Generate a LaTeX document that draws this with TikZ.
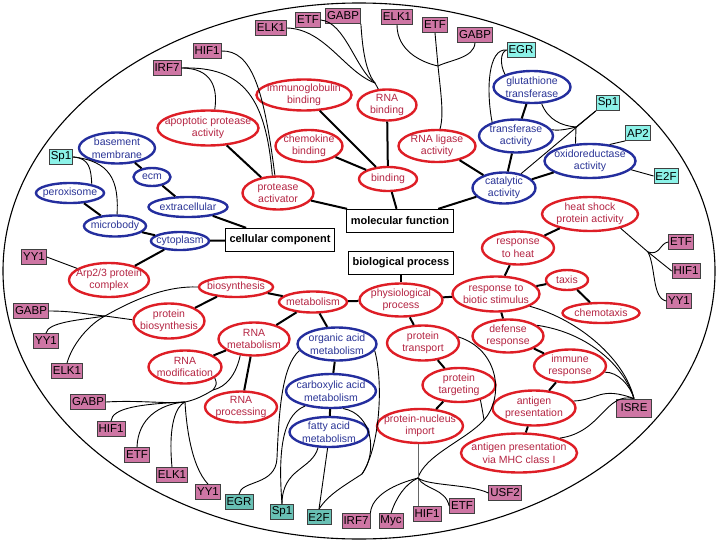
\documentclass[tikz,border=0pt]{standalone}
\usepackage{fontspec}
\setmainfont{Liberation Sans}
\usetikzlibrary{shapes.geometric}

\definecolor{goRed}{RGB}{222,30,38}
\definecolor{goRedText}{RGB}{180,36,66}
\definecolor{goBlue}{RGB}{36,46,158}
\definecolor{goBlueText}{RGB}{42,52,150}
\definecolor{tfPink}{RGB}{206,118,164}
\definecolor{tfCyan}{RGB}{140,242,232}
\definecolor{tfTeal}{RGB}{104,192,180}

\begin{document}
\begin{tikzpicture}[
  x=1pt, y=-1pt,
  sz/.style 2 args={minimum width=#1pt, minimum height=#2pt},
  redterm/.style={ellipse, draw=goRed, line width=2.4pt, text=goRedText,
    align=center, inner sep=-10pt, font=\fontsize{10.5}{12.5}\selectfont},
  blueterm/.style={ellipse, draw=goBlue, line width=2.4pt, text=goBlueText,
    align=center, inner sep=-10pt, font=\fontsize{10.5}{12.5}\selectfont},
  root/.style={rectangle, draw, line width=1.3pt, inner xsep=4pt,
    minimum height=23pt, font=\fontsize{11}{13}\selectfont\bfseries},
  tf/.style={rectangle, draw=black!75, line width=0.8pt, fill=tfPink,
    inner xsep=1.5pt, inner ysep=1pt, minimum height=15pt,
    font=\fontsize{11.5}{13}\selectfont},
  tfc/.style={tf, fill=tfCyan},
  tft/.style={tf, fill=tfTeal},
  isa/.style={line width=2pt},
  bind/.style={line width=0.9pt}
  ]

\useasboundingbox (0,0) rectangle (719,540);
\draw[line width=1.1pt] (359,271) ellipse [x radius=356pt, y radius=268pt];

% the three roots
\node[root] (molfun) at (400,221) {molecular function};
\node[root] (cellcomp) at (280,240) {cellular component};
\node[root] (bioproc) at (401,263) {biological process};

% cellular component
\node[blueterm, sz={76}{31}] (basemem) at (117,148) {basement\\membrane};
\node[blueterm, sz={37}{18}] (ecm) at (152,177) {ecm};
\node[blueterm, sz={68}{20}] (perox) at (70,193) {peroxisome};
\node[blueterm, sz={79}{20}] (extracell) at (188,207) {extracellular};
\node[blueterm, sz={62}{21}] (microbody) at (115,226) {microbody};
\node[blueterm, sz={58}{18}] (cytoplasm) at (180,241) {cytoplasm};
\node[redterm, sz={80}{34}] (arp) at (109,280) {Arp2/3 protein\\complex};

% molecular function
\node[redterm, sz={95}{31}] (igbind) at (304,95) {immunoglobulin\\binding};
\node[redterm, sz={59}{31}] (rnabind) at (387,105) {RNA\\binding};
\node[redterm, sz={101}{35}] (apoprot) at (208,128) {apoptotic protease\\activity};
\node[redterm, sz={67}{32}] (chemobind) at (309,146) {chemokine\\binding};
\node[redterm, sz={71}{33}] (protact) at (278,193) {protease\\activator};
\node[redterm, sz={58}{24}] (binding) at (388,179) {binding};
\node[redterm, sz={77}{32}] (rnaligase) at (437,146) {RNA ligase\\activity};
\node[blueterm, sz={77}{32}] (glut) at (532,87) {glutathione\\transferase};
\node[blueterm, sz={74}{33}] (transf) at (516,136) {transferase\\activity};
\node[blueterm, sz={91}{34}] (oxido) at (590,161) {oxidoreductase\\activity};
\node[blueterm, sz={63}{31}] (catal) at (504,188) {catalytic\\activity};
\node[redterm, sz={96}{34}] (heatshock) at (590,214) {heat shock\\protein activity};

% biological process
\node[redterm, sz={72}{33}] (respheat) at (518,248) {response\\to heat};
\node[redterm, sz={74}{20}] (biosyn) at (236,287) {biosynthesis};
\node[redterm, sz={68}{21}] (metab) at (313,302) {metabolism};
\node[redterm, sz={83}{33}] (physproc) at (401,300) {physiological\\process};
\node[redterm, sz={87}{35}] (respbiotic) at (496,294) {response to\\biotic stimulus};
\node[redterm, sz={42}{20}] (taxis) at (567,280) {taxis};
\node[redterm, sz={77}{20}] (chemotaxis) at (601,313) {chemotaxis};
\node[redterm, sz={71}{35}] (protbiosyn) at (169,321) {protein\\biosynthesis};
\node[redterm, sz={71}{33}] (rnametab) at (254,339) {RNA\\metabolism};
\node[redterm, sz={73}{33}] (rnamod) at (185,367) {RNA\\modification};
\node[redterm, sz={72}{31}] (rnaproc) at (241,407) {RNA\\processing};
\node[blueterm, sz={79}{33}] (orgacid) at (337,344) {organic acid\\metabolism};
\node[blueterm, sz={90}{34}] (carbox) at (331,391) {carboxylic acid\\metabolism};
\node[blueterm, sz={79}{30}] (fatty) at (329,432) {fatty acid\\metabolism};
\node[redterm, sz={72}{35}] (prottrans) at (423,343) {protein\\transport};
\node[redterm, sz={71}{33}] (defresp) at (508,336) {defense\\response};
\node[redterm, sz={72}{33}] (immresp) at (570,366) {immune\\response};
\node[redterm, sz={73}{34}] (prottarg) at (459,385) {protein\\targeting};
\node[redterm, sz={83}{35}] (antpres) at (534,408) {antigen\\presentation};
\node[redterm, sz={86}{34}] (pnimport) at (420,426) {protein-nucleus\\import};
\node[redterm, sz={116}{39}] (mhc) at (519,453) {antigen presentation\\via MHC class I};

% transcription factors
\node[tf] (elkA) at (271,28) {ELK1};
\node[tf] (etfA) at (308,20) {ETF};
\node[tf] (gabpA) at (343,16) {GABP};
\node[tf] (hifA) at (207,51) {HIF1};
\node[tf] (irfA) at (167,68) {IRF7};
\node[tf] (elkB) at (397,17) {ELK1};
\node[tf] (etfB) at (435,25) {ETF};
\node[tf] (gabpB) at (475,35) {GABP};
\node[tfc] (egrB) at (521,50) {EGR};
\node[tfc] (spB) at (608,103) {Sp1};
\node[tfc] (aptwo) at (638,133) {AP2};
\node[tfc] (etwofB) at (666,176) {E2F};
\node[tfc] (spA) at (61,157) {Sp1};
\node[tf] (yyD) at (34,257) {YY1};
\node[tf] (etfC) at (681,242) {ETF};
\node[tf] (hifC) at (686,271) {HIF1};
\node[tf] (yyC) at (679,301) {YY1};
\node[tf] (gabpE) at (31,311) {GABP};
\node[tf] (yyE) at (46,341) {YY1};
\node[tf] (elkE) at (67,371) {ELK1};
\node[tf] (gabpF) at (88,402) {GABP};
\node[tf] (hifF) at (111,429) {HIF1};
\node[tf] (etfF) at (137,455) {ETF};
\node[tf] (elkF) at (172,475) {ELK1};
\node[tf] (yyF) at (208,492) {YY1};
\node[tft] (egrH) at (239,502) {EGR};
\node[tft] (spH) at (282,512) {Sp1};
\node[tft] (etwofH) at (319,517) {E2F};
\node[tf] (irfG) at (356,521) {IRF7};
\node[tf] (mycG) at (391,521) {Myc};
\node[tf] (hifG) at (427,514) {HIF1};
\node[tf] (etfG) at (462,506) {ETF};
\node[tf] (usfG) at (505,493) {USF2};
\node[tf, minimum width=35pt, minimum height=18pt] (isre) at (634,408) {ISRE};

% is-a links
\draw[isa] (basemem) -- (ecm);
\draw[isa] (ecm) -- (extracell);
\draw[isa] (extracell) -- (cellcomp);
\draw[isa] (perox) -- (microbody);
\draw[isa] (microbody) -- (cytoplasm);
\draw[isa] (cytoplasm) -- (cellcomp);
\draw[isa] (cytoplasm) -- (arp);

\draw[isa] (apoprot) -- (protact);
\draw[isa] (protact) -- (molfun);
\draw[isa] (igbind) -- (binding);
\draw[isa] (chemobind) -- (binding);
\draw[isa] (rnabind) -- (binding);
\draw[isa] (binding) -- (molfun);
\draw[isa] (rnaligase) -- (catal);
\draw[isa] (glut) -- (transf);
\draw[isa] (transf) -- (catal);
\draw[isa] (oxido) -- (catal);
\draw[isa] (catal) -- (molfun);

\draw[isa] (bioproc) -- (physproc);
\draw[isa] (physproc) -- (metab);
\draw[isa] (metab) -- (biosyn);
\draw[isa] (biosyn) -- (protbiosyn);
\draw[isa] (metab) -- (rnametab);
\draw[isa] (metab) -- (orgacid);
\draw[isa] (rnametab) -- (rnamod);
\draw[isa] (rnametab) -- (rnaproc);
\draw[isa] (orgacid) -- (carbox);
\draw[isa] (carbox) -- (fatty);
\draw[isa] (physproc) -- (respbiotic);
\draw[isa] (physproc) -- (prottrans);
\draw[isa] (prottrans) -- (prottarg);
\draw[isa] (prottarg) -- (pnimport);
\draw[isa] (respbiotic) -- (respheat);
\draw[isa] (respheat) -- (heatshock);
\draw[isa] (respbiotic) -- (taxis);
\draw[isa] (taxis) -- (chemotaxis);
\draw[isa] (respbiotic) -- (defresp);
\draw[isa] (defresp) -- (immresp);
\draw[isa] (immresp) -- (antpres);
\draw[isa] (antpres) -- (mhc);

% binding sites
\coordinate (jA) at (375,83);
\draw[bind] (elkA.east) .. controls (325,29) and (345,72) .. (jA);
\draw[bind] (etfA.east) .. controls (345,22) and (356,70) .. (jA);
\draw[bind] (gabpA.south east) .. controls (362,40) and (364,70) .. (jA);
\draw[bind] (jA) -- (rnabind);

\draw[bind] (irfA.east) .. controls (212,68) and (218,88) .. (apoprot.70);
\draw[bind] (irfA.east) .. controls (245,66) and (266,100) .. (protact.108);
\draw[bind] (hifA.east) .. controls (252,50) and (264,90) .. (protact.100);

\coordinate (jC) at (438,66);
\draw[bind] (elkB.south) .. controls (397,50) and (420,62) .. (jC);
\draw[bind] (etfB.south) -- (jC);
\draw[bind] (gabpB.south) .. controls (474,58) and (450,60) .. (jC);
\draw[bind] (jC) .. controls (441,95) and (444,115) .. (rnaligase.80);

\draw[bind] (egrB.west) .. controls (488,48) and (486,90) .. (transf.150);
\draw[bind] (egrB.west) .. controls (500,52) and (500,65) .. (glut.155);

\coordinate (jE) at (576,127);
\draw[bind] (glut.-60) .. controls (548,120) and (562,126) .. (jE);
\draw[bind] (transf.10) .. controls (560,131) and (568,129) .. (jE);
\draw[bind] (oxido.130) -- (jE);
\draw[bind] (jE) -- (spB.south west);
\draw[bind] (catal) -- (spB.south west);
\draw[bind] (aptwo.south west) -- (oxido.40);
\draw[bind] (etwofB.west) -- (oxido.-12);

\draw[bind] (spA.east) .. controls (90,158) and (91,170) .. (perox.22);
\draw[bind] (spA.east) .. controls (110,161) and (119,180) .. (microbody.80);
\draw[bind] (yyD.east) -- (arp.160);

\coordinate (jI) at (648,252);
\draw[bind] (heatshock.-25) -- (jI);
\draw[bind] (jI) .. controls (660,256) and (660,243) .. (etfC.west);
\draw[bind] (jI) -- (hifC.west);
\draw[bind] (jI) .. controls (656,268) and (652,298) .. (yyC.west);

\draw[bind] (respbiotic.-20) .. controls (580,320) and (625,360) .. (isre.north);
\draw[bind] (defresp.20) .. controls (590,333) and (625,368) .. (isre.north);
\draw[bind] (immresp.-10) .. controls (618,372) and (630,385) .. (isre.north);
\draw[bind] (antpres.10) .. controls (598,400) and (600,386) .. (isre.north);
\draw[bind] (mhc.20) .. controls (602,432) and (605,392) .. (isre.north);

\coordinate (jK) at (418,478);
\coordinate (jK2) at (484,420);
\draw[bind] (prottrans.10) .. controls (500,350) and (504,398) .. (jK2);
\draw[bind] (prottarg.-35) .. controls (482,408) .. (jK2);
\draw[bind] (jK2) .. controls (466,440) and (425,455) .. (jK);
\draw[bind, black!60] (pnimport.265) -- (pnimport.265 |- hifG.north);
\draw[bind] (jK) .. controls (395,484) and (372,495) .. (irfG.north east);
\draw[bind] (jK) .. controls (405,484) and (396,498) .. (mycG.north);
\draw[bind] (jK) .. controls (425,490) and (445,488) .. (etfG.west);
\draw[bind] (jK) .. controls (428,486) and (470,484) .. (usfG.west);

\coordinate (jL) at (185,402);
\coordinate (jL2) at (213,390);
\draw[bind] (rnametab.-130) .. controls (236,375) and (226,387) .. (jL2);
\draw[bind] (rnamod.-20) .. controls (217,384) .. (jL2);
\draw[bind] (jL2) .. controls (203,396) and (195,400) .. (jL);
\draw[bind] (gabpF.east) .. controls (140,400) and (165,404) .. (jL);
\draw[bind] (hifF.north) .. controls (112,408) and (140,404) .. (jL);
\draw[bind] (etfF.north) .. controls (138,418) and (160,404) .. (jL);
\draw[bind] (elkF.north) .. controls (168,425) and (176,406) .. (jL);
\draw[bind] (yyF.north) .. controls (190,465) and (186,420) .. (jL);

\coordinate (jM) at (105,316);
\draw[bind] (gabpE.east) .. controls (75,311) and (90,315) .. (jM);
\draw[bind] (yyE.north) .. controls (48,322) and (80,320) .. (jM);
\draw[bind] (elkE.north) .. controls (72,345) and (88,325) .. (jM);
\draw[bind] (jM) -- (protbiosyn.178);
\draw[bind] (jM) .. controls (140,296) and (170,286) .. (biosyn.west);

\coordinate (jN) at (362,474);
\draw[bind] (egrH.north) .. controls (241,480) and (276,486) .. (277,458)
  .. controls (279,410) and (282,366) .. (orgacid.190);
\draw[bind] (carbox.210) .. controls (286,414) and (277,440) .. (spH.north);
\draw[bind] (fatty.235) .. controls (312,470) and (282,468) .. (spH.north);
\draw[bind] (fatty.265) -- (etwofH.north);
\draw[bind] (carbox.-55) .. controls (372,414) and (378,452) .. (jN);
\draw[bind] (orgacid.-10) .. controls (383,380) and (381,445) .. (jN);
\draw[bind] (jN) .. controls (342,487) and (328,495) .. (etwofH.north);

\end{tikzpicture}
\end{document}
